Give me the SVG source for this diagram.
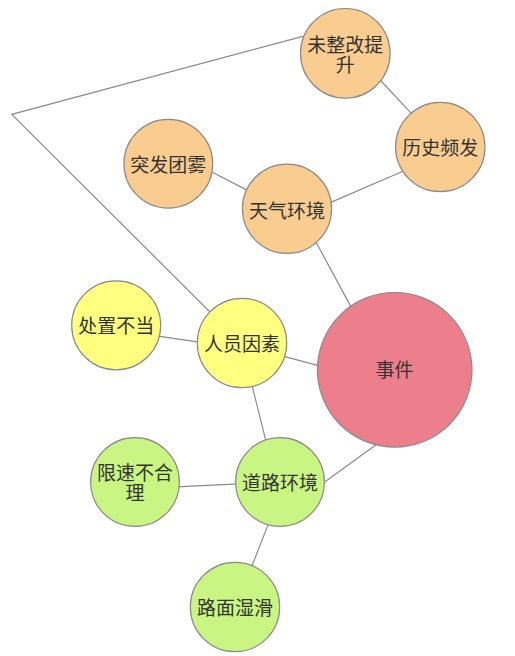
<svg xmlns="http://www.w3.org/2000/svg" width="515" height="656" viewBox="0 0 515 656">
<style>
.edge{stroke:#8a8a8a;stroke-width:1.2;fill:none}
.node circle{stroke:#8a8a8a;stroke-width:1.2}
.orange{fill:#F9CD90}
.red{fill:#EC7F8B}
.yellow{fill:#FFFF80}
.green{fill:#C9F682}
text{font-family:"Noto Sans CJK SC","Noto Sans CJK JP",sans-serif;font-size:19px;fill:#333;text-anchor:middle;dominant-baseline:central}
</style>
<rect width="515" height="656" fill="#fff"/>
<g id="connectors">
<line class="edge" x1="379.6" y1="79.5" x2="412.8" y2="114.9"/>
<line class="edge" x1="210" y1="171" x2="249.4" y2="191.4"/>
<line class="edge" x1="329.6" y1="202.9" x2="407" y2="169.5"/>
<line class="edge" x1="315.3" y1="240.7" x2="351.4" y2="307.6"/>
<line class="edge" x1="156.3" y1="335.9" x2="200.7" y2="342.4"/>
<line class="edge" x1="282.1" y1="355.9" x2="320.2" y2="366.1"/>
<line class="edge" x1="251" y1="381.4" x2="266.4" y2="442.9"/>
<line class="edge" x1="176.3" y1="486.8" x2="238.7" y2="483.9"/>
<line class="edge" x1="322.6" y1="483.5" x2="375.7" y2="444.9"/>
<line class="edge" x1="268.8" y1="522.9" x2="251.2" y2="567.8"/>
<polyline class="edge" points="303,36.3 11.7,114.3 214,316"/>
</g>
<g id="node-shijian" class="node"><circle class="red" cx="394.7" cy="369.8" r="77.3"/><text x="394.5" y="368.5">事件</text></g>
<g id="node-tianqi" class="node"><circle class="orange" cx="287" cy="208.8" r="44.6"/><text x="287" y="209">天气环境</text></g>
<g id="node-weizhenggai" class="node"><circle class="orange" cx="345.3" cy="53.3" r="44.8"/><text x="345.3" y="43.3">未整改提<tspan x="345.3" y="63.3">升</tspan></text></g>
<g id="node-lishi" class="node"><circle class="orange" cx="440.3" cy="147" r="44.7"/><text x="440.3" y="146.7">历史频发</text></g>
<g id="node-tufa" class="node"><circle class="orange" cx="168.3" cy="163.7" r="44.4"/><text x="168.3" y="163.5">突发团雾</text></g>
<g id="node-renyuan" class="node"><circle class="yellow" cx="242" cy="343" r="44.7"/><text x="242" y="342.5">人员因素</text></g>
<g id="node-chuzhi" class="node"><circle class="yellow" cx="116.2" cy="325.3" r="44.5"/><text x="116.2" y="324.5">处置不当</text></g>
<g id="node-daolu" class="node"><circle class="green" cx="280" cy="482" r="44.4"/><text x="280" y="481">道路环境</text></g>
<g id="node-xiansu" class="node"><circle class="green" cx="135" cy="482" r="44.4"/><text x="135" y="471">限速不合<tspan x="135" y="490.5">理</tspan></text></g>
<g id="node-lumian" class="node"><circle class="green" cx="235" cy="607" r="44.7"/><text x="235" y="606">路面湿滑</text></g>
</svg>
